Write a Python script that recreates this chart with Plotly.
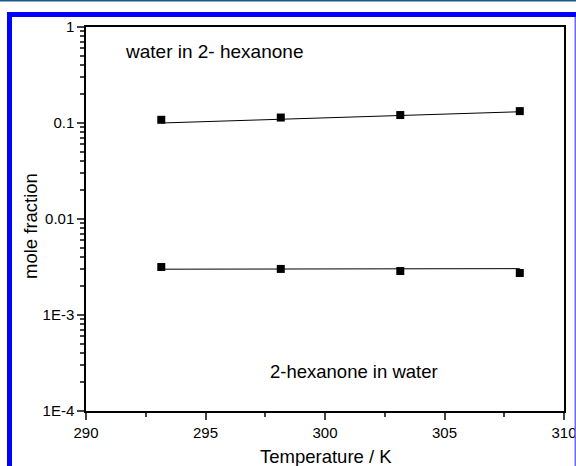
import plotly.graph_objects as go

W, H = 576, 466
ML, MR, MT, MB = 86, 12, 27, 55

# temperatures / K
temperature = [293.15, 298.15, 303.15, 308.15]
# mole fraction of water in 2-hexanone
water_in_hexanone = [0.108, 0.114, 0.121, 0.133]
# mole fraction of 2-hexanone in water
hexanone_in_water = [0.00316, 0.00302, 0.00287, 0.00274]

# correlation lines (end points)
fit_temperature = [293.15, 308.15]
fit_water_in_hexanone = [0.100, 0.131]
fit_hexanone_in_water = [0.00300, 0.00304]

y_tickvals = [1e-4, 1e-3, 1e-2, 1e-1, 1]
y_ticktext = ["1E-4", "1E-3", "0.01", "0.1", "1"]
y_minor = [m * 10 ** e for e in range(-4, 0) for m in range(2, 10)]
x_tickvals = [290, 295, 300, 305, 310]
x_minor = [292.5, 297.5, 302.5, 307.5]

fig = go.Figure()
for fx, fy in [(fit_temperature, fit_water_in_hexanone),
               (fit_temperature, fit_hexanone_in_water)]:
    fig.add_trace(go.Scatter(x=fx, y=fy, mode="lines",
                             line=dict(color="black", width=1),
                             showlegend=False, hoverinfo="skip"))
for ys in [water_in_hexanone, hexanone_in_water]:
    fig.add_trace(go.Scatter(x=temperature, y=ys, mode="markers",
                             marker=dict(symbol="square", size=8, color="black"),
                             showlegend=False))

font = dict(family="Liberation Sans, Arial, sans-serif", color="black")

fig.update_xaxes(range=[290, 310], tickvals=x_tickvals, ticks="outside",
                 ticklen=7, tickwidth=1.5, linecolor="black", linewidth=1.5,
                 mirror=True, showgrid=False, zeroline=False, automargin=False,
                 ticklabeloverflow="allow",
                 tickfont=dict(size=15, **font),
                 minor=dict(ticks="outside", ticklen=4, tickwidth=1.5,
                            tickmode="array", tickvals=x_minor, showgrid=False))
fig.update_yaxes(type="log", range=[-4, 0], tickvals=y_tickvals,
                 ticktext=y_ticktext, ticks="outside", ticklen=7, tickwidth=1.5,
                 linecolor="black", linewidth=1.5, mirror=True, showgrid=False,
                 zeroline=False, automargin=False, ticklabeloverflow="allow",
                 tickfont=dict(size=15, **font),
                 minor=dict(ticks="outside", ticklen=4, tickwidth=1.5,
                            tickmode="array", tickvals=y_minor, showgrid=False))

pw = W - ML - MR
ph = H - MT - MB


def px(x):
    return (x - ML) / pw


def py(y):
    return 1 - (y - MT) / ph


shapes = [
    dict(type="line", xref="paper", yref="paper", x0=px(0), x1=px(W),
         y0=py(0.5), y1=py(0.5), line=dict(color="#1b5b8c", width=2)),
    dict(type="line", xref="paper", yref="paper", x0=px(7), x1=px(W),
         y0=py(14.5), y1=py(14.5), line=dict(color="#0000ff", width=5)),
    dict(type="line", xref="paper", yref="paper", x0=px(9.5), x1=px(9.5),
         y0=py(12), y1=py(H), line=dict(color="#0000ff", width=5)),
    dict(type="line", xref="paper", yref="paper", x0=px(575.5), x1=px(575.5),
         y0=py(17), y1=py(H), line=dict(color="#6a6aff", width=2)),
]

fig.update_layout(
    width=W, height=H,
    margin=dict(l=ML, r=MR, t=MT, b=MB),
    paper_bgcolor="white", plot_bgcolor="white",
    shapes=shapes,
    annotations=[
        dict(text="water in 2- hexanone", x=px(123), y=py(52), xref="paper",
             yref="paper", xanchor="left", yanchor="middle", showarrow=False,
             font=dict(size=19, **font)),
        dict(text="2-hexanone in water", x=px(268), y=py(371), xref="paper",
             yref="paper", xanchor="left", yanchor="middle", showarrow=False,
             font=dict(size=18.5, **font)),
        dict(text="Temperature / K", x=px(326), y=py(456), xref="paper",
             yref="paper", xanchor="center", yanchor="middle", showarrow=False,
             font=dict(size=18.5, **font)),
        dict(text="mole fraction", x=px(30), y=py(226), xref="paper",
             yref="paper", xanchor="center", yanchor="middle", showarrow=False,
             textangle=-90, font=dict(size=18.5, **font)),
    ],
)

fig.write_html("out.html")
